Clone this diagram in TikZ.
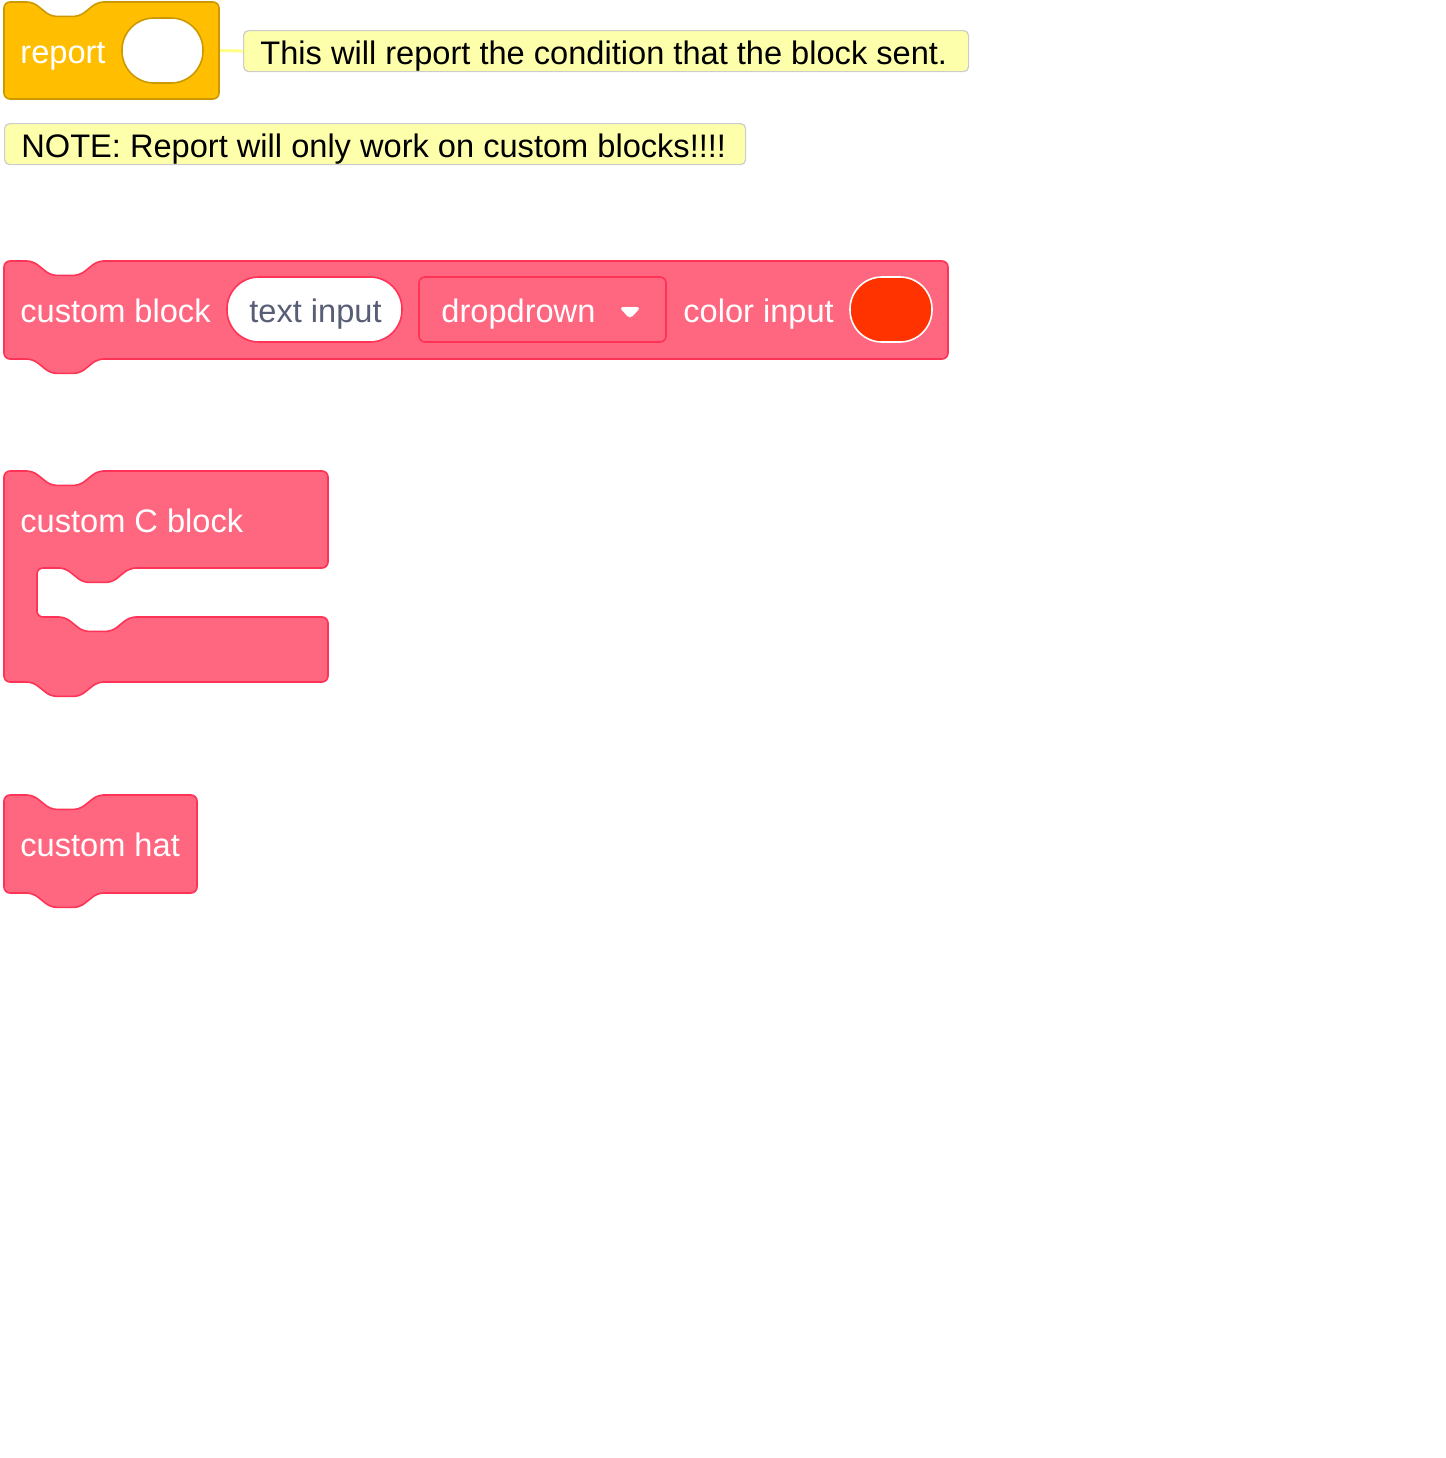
\documentclass[tikz,border=0pt]{standalone}
\usepackage{fontspec}
\setmainfont{Liberation Sans}
\definecolor{blockpink}{HTML}{FF6680}
\definecolor{blockedge}{HTML}{FF3355}
\definecolor{repfill}{HTML}{FFBF00}
\definecolor{repedge}{HTML}{CC9900}
\definecolor{notefill}{HTML}{FEFFAA}
\definecolor{noteedge}{HTML}{CCCCCC}
\definecolor{linkcol}{HTML}{FFFF88}
\definecolor{fieldtext}{HTML}{575E75}
\definecolor{swatch}{HTML}{FF3300}

% notch dipping down, walking right / walking left
\def\notchR{-- ++(18,14.4) -- ++(28.8,0) -- ++(18,-14.4)}
\def\notchL{-- ++(-18,14.4) -- ++(-28.8,0) -- ++(-18,-14.4)}

\begin{document}
\begin{tikzpicture}[x=0.5pt, y=-0.5pt,
  blk/.style={line width=0.8pt, rounded corners=3pt, line join=round},
  pinkblk/.style={blk, fill=blockpink, draw=blockedge},
  label/.style={inner sep=0pt, anchor=base west, font=\fontsize{16.3}{19}\selectfont},
  blklabel/.style={label, text=white},
  note/.style={draw=noteedge, fill=notefill, line width=0.6pt, rounded corners=2.5pt,
    minimum height=20.5pt, anchor=north west, inner sep=0pt}]
  \useasboundingbox (0,0) rectangle (1446,1458);

  % report block and its comment
  \coordinate (rep) at (219,50.5);
  \node[note, minimum width=362.5pt] (note1) at (243,30) {};
  \draw[linkcol, line width=1.5pt] (rep) -- (note1.west);
  \draw[blk, fill=repfill, draw=repedge]
    (4,2) -- (32.8,2) \notchR -- (219,2) -- (219,99) -- (4,99) -- cycle;
  \draw[fill=white, draw=repedge, line width=0.8pt, rounded corners=16pt]
    (122,18) rectangle (203,83);
  \node[blklabel] (report) at (20,63) {report};
  \node[label] (note1txt) at (260,64) {This will report the condition that the block sent.};

  \node[note, minimum width=370.5pt] (note2) at (4,123) {};
  \node[label] (note2txt) at (21,157) {NOTE: Report will only work on custom blocks!!!!};

  % custom block
  \draw[pinkblk]
    (4,261) -- (32.8,261) \notchR -- (948,261) -- (948,359)
    -- (97.6,359) \notchL -- (4,359) -- cycle;
  \node[blklabel] (cust) at (20,322) {custom block};
  \draw[fill=white, draw=blockedge, line width=0.8pt, rounded corners=16pt]
    (227,277) rectangle (402,342);
  \node[label, text=fieldtext] (txtin) at (249,322) {text input};
  \draw[fill=blockpink, draw=blockedge, line width=0.8pt, rounded corners=3pt]
    (419,277) rectangle (666,342);
  \node[blklabel] (drop) at (441,322) {dropdrown};
  \fill[white, rounded corners=2pt] (619,307) -- (641,307) -- (630,319) -- cycle;
  \node[blklabel] (colin) at (683,322) {color input};
  \draw[fill=swatch, draw=white, line width=0.8pt, rounded corners=16pt]
    (850,277) rectangle (932,342);

  % custom C block
  \draw[pinkblk]
    (4,471) -- (32.8,471) \notchR -- (328,471) -- (328,568)
    -- (129.8,568) \notchL -- (37,568) -- (37,617)
    -- (65,617) \notchR -- (328,617) -- (328,682)
    -- (97.6,682) \notchL -- (4,682) -- cycle;
  \node[blklabel] (cblk) at (20,532) {custom C block};

  % custom hat
  \draw[pinkblk]
    (4,795) -- (32.8,795) \notchR -- (197,795) -- (197,893)
    -- (97.6,893) \notchL -- (4,893) -- cycle;
  \node[blklabel] (hat) at (20,856) {custom hat};
\end{tikzpicture}
\end{document}
